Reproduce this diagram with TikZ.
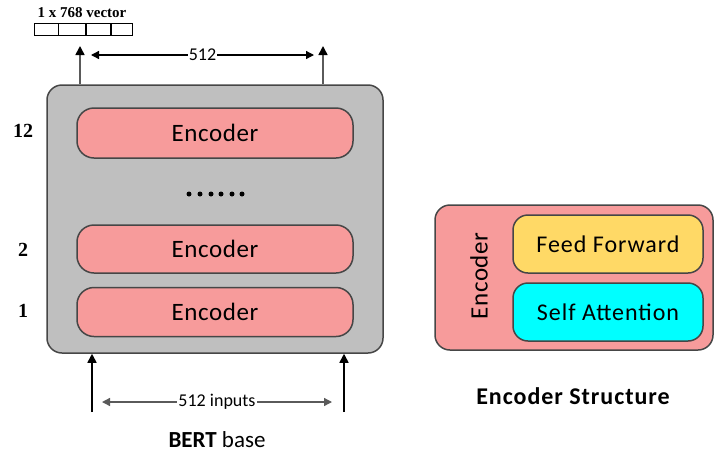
\documentclass[tikz,border=0pt]{standalone}
\usepackage{fontspec}
\setmainfont{Carlito}
\newfontfamily\serifb{Liberation Serif}
\newfontfamily\wide{Carlito}[LetterSpace=4]
\newfontfamily\wider{Carlito}[LetterSpace=2.5]
\usetikzlibrary{arrows.meta}
\definecolor{boxgray}{RGB}{191,191,191}
\definecolor{encpink}{RGB}{247,155,155}
\definecolor{ffyellow}{RGB}{255,217,102}
\definecolor{sacyan}{RGB}{0,255,255}
\definecolor{edge}{RGB}{70,70,70}
\definecolor{shaft}{RGB}{90,90,90}
\tikzset{
  rbox/.style={draw=edge, line width=1.5pt, rounded corners=#1, inner sep=0pt, anchor=center},
  enc/.style={rbox=17pt, fill=encpink, minimum width=276pt, font=\wider\fontsize{25}{30}\selectfont},
  inner/.style={rbox=15pt, minimum width=190pt, minimum height=58pt, font=\wide\fontsize{24}{29}\selectfont},
  num/.style={font=\serifb\bfseries\fontsize{20}{24}\selectfont, inner sep=0pt},
  uparrow/.style={draw=shaft, line width=1.6pt, -{Triangle[length=9pt,width=9pt,fill=black,color=black]}},
  dimarrow/.style={draw=black, line width=1.3pt, {Triangle[length=8pt,width=8pt]}-{Triangle[length=8pt,width=8pt]}},
  dimlabel/.style={fill=white, inner sep=1pt, font=\fontsize{18}{21}\selectfont},
  vcell/.style={draw=black, line width=0.9pt, minimum width=24pt, minimum height=12pt, inner sep=0pt, fill=white}
}
\begin{document}
\begin{tikzpicture}[x=1pt,y=-1pt]
\useasboundingbox (0,0) rectangle (728,456);
% BERT base stack
\node[rbox=15pt, fill=boxgray, minimum width=336pt, minimum height=268pt] (gray) at (215,219) {};
\node[enc, minimum height=50pt] (e12) at (215,133) {Encoder};
\node[enc, minimum height=48pt] (e2) at (215,249) {Encoder};
\node[enc, minimum height=49pt] (e1) at (215,312) {Encoder};
\foreach \i/\x in {1/189,2/200,3/211,4/221,5/232,6/242}
  \fill (\x,194) circle (2.5pt);
\node[num] (n12) at (23,131) {12};
\node[num] (n2) at (23,250) {2};
\node[num] (n1) at (23,311) {1};
% top output arrows
\coordinate (ta) at (80,46);
\coordinate (tb) at (323,46);
\draw[uparrow] (ta |- gray.north) -- (ta);
\draw[uparrow] (tb |- gray.north) -- (tb);
\coordinate (da) at (91,55);
\coordinate (db) at (314,55);
\draw[dimarrow] (da) -- node[dimlabel] (l512) {512} (db);
% vector
\node[vcell, minimum width=24pt] (v1) at (46,29.5) {};
\node[vcell, minimum width=27pt, anchor=west] (v2) at (v1.east) {};
\node[vcell, minimum width=24pt, anchor=west] (v3) at (v2.east) {};
\node[vcell, minimum width=21pt, anchor=west] (v4) at (v3.east) {};
\node[font=\serifb\bfseries\fontsize{15}{17}\selectfont, inner sep=0pt] (vl) at (82,13) {1 x 768 vector};
% bottom input arrows
\coordinate (ba) at (92,412);
\coordinate (bb) at (344,412);
\draw[uparrow, draw=black] (ba) -- (ba |- gray.south);
\draw[uparrow, draw=black] (bb) -- (bb |- gray.south);
\coordinate (ia) at (102,402);
\coordinate (ib) at (332,402);
\draw[dimarrow, draw=shaft] (ia) -- node[dimlabel] (l512i) {512 inputs} (ib);
\node[font=\fontsize{23}{28}\selectfont, inner sep=0pt] (cap1) at (217,440) {\textbf{BERT} base};
% Encoder structure
\node[rbox=15pt, fill=encpink, minimum width=278pt, minimum height=145pt] (es) at (574,277.5) {};
\node[inner, fill=ffyellow] (ff) at (608,244) {Feed Forward};
\node[inner, fill=sacyan] (sa) at (608,312) {Self Attention};
\node[rotate=90, font=\wider\fontsize{25}{30}\selectfont, inner sep=0pt] (encl) at (479,276) {Encoder};
\node[font=\wide\bfseries\fontsize{24}{29}\selectfont, inner sep=0pt] (cap2) at (573,396) {Encoder Structure};
\end{tikzpicture}
\end{document}
